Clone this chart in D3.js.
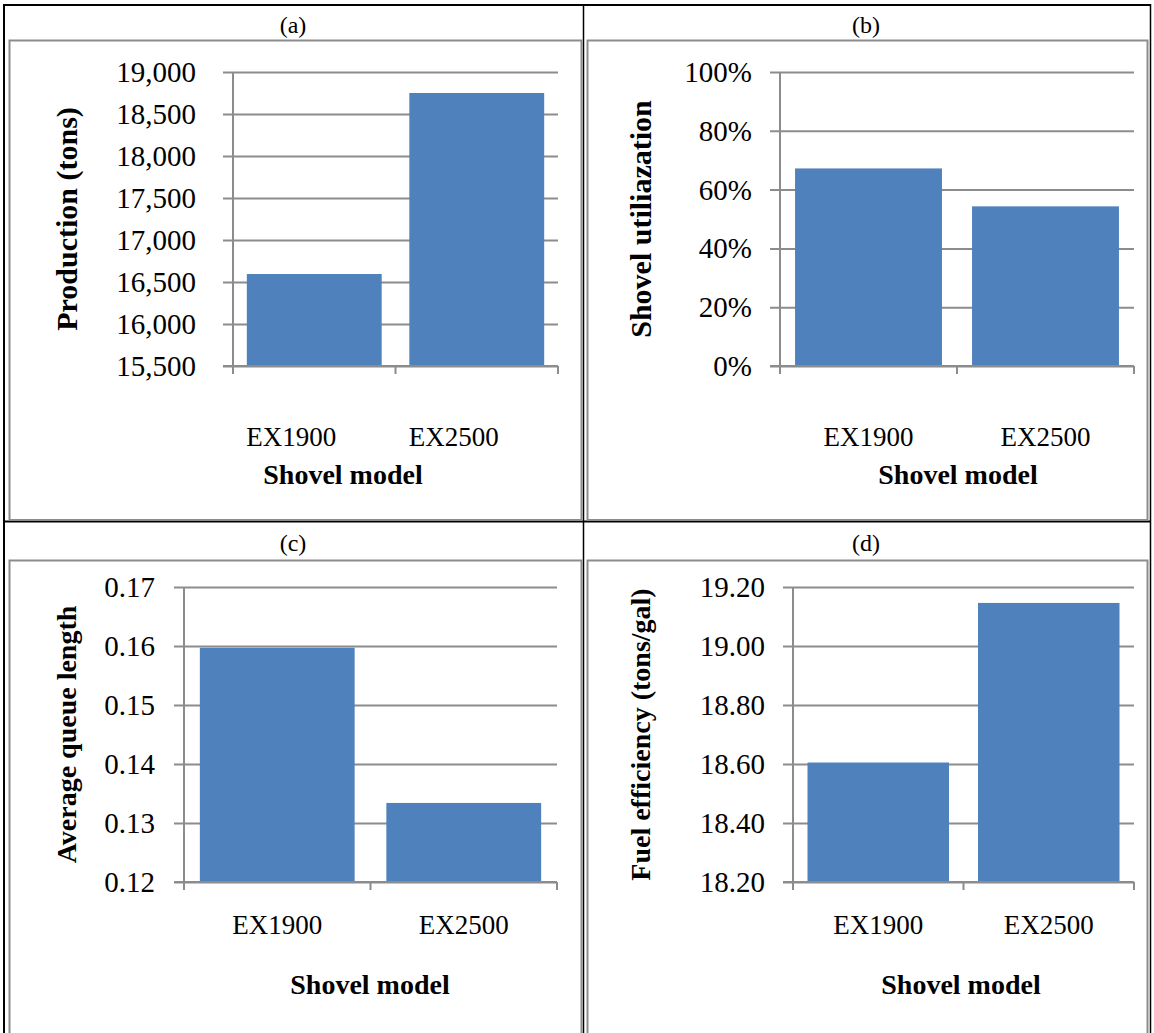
<!DOCTYPE html>
<html>
<head>
<meta charset="utf-8">
<script src="https://cdn.jsdelivr.net/npm/d3@7"></script>
<style>
  html, body { margin: 0; padding: 0; background: #fff; }
  svg { display: block; }
  text { font-family: "Liberation Serif", "Times New Roman", serif; fill: #000; }
</style>
</head>
<body>
<svg id="fig" width="1154" height="1033"></svg>
<script>
// Shovel model comparison data
const categories = ["EX1900", "EX2500"];
const production = [16595, 18750];          // tons
const utilization = [0.672, 0.543];         // share of time
const queueLength = [0.1597, 0.1334];       // trucks
const fuelEfficiency = [18.605, 19.146];    // tons/gal

const productionTicks = [15500, 16000, 16500, 17000, 17500, 18000, 18500, 19000];
const utilizationTicks = [0, 0.2, 0.4, 0.6, 0.8, 1.0];
const queueTicks = [0.12, 0.13, 0.14, 0.15, 0.16, 0.17];
const fuelTicks = [18.2, 18.4, 18.6, 18.8, 19.0, 19.2];

const panelLabels = ["(a)", "(b)", "(c)", "(d)"];
const yTitles = ["Production (tons)", "Shovel utiliazation", "Average queue length", "Fuel efficiency (tons/gal)"];
const xTitle = "Shovel model";

const svg = d3.select("#fig");
const BAR = "#4f81bd", GRID = "#8c8c8c";

// table grid lines (black) and chart frames (gray)
const tbl = svg.append("g");
const black = (x1, y1, x2, y2, w) => tbl.append("line")
  .attr("x1", x1).attr("y1", y1).attr("x2", x2).attr("y2", y2)
  .attr("stroke", "#000").attr("stroke-width", w);
black(3, 5, 1151, 5, 2);
black(4, 4, 4, 1033, 2);
black(1150.5, 4, 1150.5, 1033, 1.5);
black(583.5, 4, 583.5, 1033, 1.5);
black(3, 521.5, 1151, 521.5, 2);

const frames = [
  {x: 9.5, y: 40.5, w: 572, h: 479.5},
  {x: 587.5, y: 40.5, w: 560, h: 479.5},
  {x: 9.5, y: 560.5, w: 572, h: 480},
  {x: 587.5, y: 560.5, w: 560, h: 480}
];
frames.forEach(f => tbl.append("rect").attr("x", f.x).attr("y", f.y)
  .attr("width", f.w).attr("height", f.h)
  .attr("fill", "none").attr("stroke", GRID).attr("stroke-width", 2));

const titlePos = [[293, 25], [866, 25], [293, 543], [866, 543]];
titlePos.forEach((p, i) => svg.append("text").attr("x", p[0]).attr("y", p[1])
  .attr("text-anchor", "middle").attr("dominant-baseline", "central")
  .style("font-size", "24px").text(panelLabels[i]));

// plot layout for each panel
const panels = [
  {values: production, ticks: productionTicks, fmt: d3.format(","),
   left: 233, right: 558, top: 72, bottom: 366, labelGap: 37,
   catY: 437, catShift: -23, titleX: 343, titleY: 474, yTitleX: 66, yTitleSize: 30},
  {values: utilization, ticks: utilizationTicks, fmt: d3.format(".0%"),
   left: 780, right: 1134, top: 72, bottom: 366, labelGap: 28,
   catY: 437, catShift: 0, titleX: 958, titleY: 474, yTitleX: 640, yTitleSize: 30},
  {values: queueLength, ticks: queueTicks, fmt: d3.format(".2f"),
   left: 184, right: 557, top: 587, bottom: 882, labelGap: 29,
   catY: 925, catShift: 0, titleX: 370, titleY: 984, yTitleX: 66, yTitleSize: 28},
  {values: fuelEfficiency, ticks: fuelTicks, fmt: d3.format(".2f"),
   left: 793, right: 1134, top: 587, bottom: 882, labelGap: 28,
   catY: 925, catShift: 0, titleX: 961, titleY: 984, yTitleX: 640, yTitleSize: 28}
];

panels.forEach((p, i) => {
  const g = svg.append("g");
  const y = d3.scaleLinear()
    .domain([p.ticks[0], p.ticks[p.ticks.length - 1]])
    .range([p.bottom, p.top]);
  const x = d3.scaleBand().domain(categories)
    .range([p.left, p.right]).paddingInner(0.17).paddingOuter(0.085);
  const xb = d3.scaleBand().domain(categories).range([p.left, p.right]);

  // gridlines with outside ticks on the value axis
  const yAxis = d3.axisLeft(y).tickValues(p.ticks)
    .tickSize(-(p.right - p.left)).tickFormat("");
  const ya = g.append("g").attr("transform", `translate(${p.left},0)`).call(yAxis);
  ya.select(".domain").remove();
  ya.selectAll(".tick line").attr("stroke", GRID).attr("stroke-width", 2)
    .attr("x1", -10);

  // tick labels
  g.selectAll(".ylab").data(p.ticks).join("text")
    .attr("x", p.left - p.labelGap).attr("y", d => y(d))
    .attr("text-anchor", "end").attr("dominant-baseline", "central")
    .style("font-size", "29px").text(p.fmt);

  // bars
  g.selectAll(".bar").data(p.values).join("rect")
    .attr("x", (d, k) => x(categories[k]))
    .attr("width", x.bandwidth())
    .attr("y", d => y(d))
    .attr("height", d => p.bottom - y(d))
    .attr("fill", BAR);

  // value axis line
  g.append("line").attr("x1", p.left).attr("x2", p.left)
    .attr("y1", p.top).attr("y2", p.bottom + 8)
    .attr("stroke", GRID).attr("stroke-width", 2);

  // category axis with boundary ticks
  g.append("line").attr("x1", p.left - 10).attr("x2", p.right)
    .attr("y1", p.bottom).attr("y2", p.bottom)
    .attr("stroke", GRID).attr("stroke-width", 2);
  const bounds = categories.map(c => xb(c)).concat([p.right]);
  g.selectAll(".xt").data(bounds).join("line")
    .attr("x1", d => d).attr("x2", d => d)
    .attr("y1", p.bottom).attr("y2", p.bottom + 8)
    .attr("stroke", GRID).attr("stroke-width", 2);

  g.selectAll(".xlab").data(categories).join("text")
    .attr("x", d => xb(d) + xb.bandwidth() / 2 + p.catShift).attr("y", p.catY)
    .attr("text-anchor", "middle").attr("dominant-baseline", "central")
    .style("font-size", "27px").text(d => d);

  g.append("text").attr("x", p.titleX).attr("y", p.titleY)
    .attr("text-anchor", "middle").attr("dominant-baseline", "central")
    .style("font-size", "28px").style("font-weight", "bold").text(xTitle);

  g.append("text")
    .attr("transform", `translate(${p.yTitleX},${(p.top + p.bottom) / 2}) rotate(-90)`)
    .attr("text-anchor", "middle").attr("dominant-baseline", "central")
    .style("font-size", `${p.yTitleSize}px`).style("font-weight", "bold").text(yTitles[i]);
});
</script>
</body>
</html>
